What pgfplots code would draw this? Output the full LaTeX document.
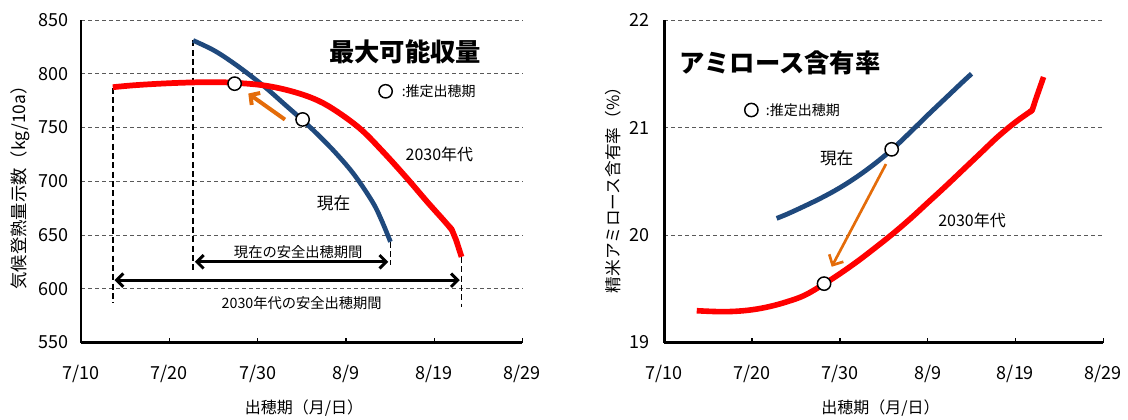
\documentclass[border=0pt]{standalone}
\usepackage{pgfplots}
\pgfplotsset{compat=1.18}
\usepackage{fontspec}
\setmainfont{Noto Sans CJK JP}
\usetikzlibrary{arrows.meta}
\definecolor{navy}{RGB}{31,73,125}
\definecolor{orng}{RGB}{228,108,10}
\tikzset{
  dbl/.style={arrows={Straight Barb[length=5pt,width=10pt]-Straight Barb[length=5pt,width=10pt]}},
  vdash/.style={black, line width=1.1pt, dash pattern=on 4.5pt off 2.5pt},
}
\pgfplotsset{common/.style={
  scale only axis, height=241.9pt, clip=false,
  axis x line=bottom, axis y line=left,
  axis line style={-, line width=2pt},
  xmin=0, xmax=50, xtick={0,10,...,50},
  xticklabels={7/10,7/20,7/30,8/9,8/19,8/29},
  tick align=inside, major tick length=3.5pt,
  xtick style={line width=1pt, black},
  ytick style={draw=none},
  ymajorgrids,
  major grid style={black!65, line width=0.75pt, dash pattern=on 3pt off 2.25pt},
  tick label style={font=\fontsize{13.5}{16}\selectfont},
  xticklabel style={anchor=center, yshift=-23.3pt},
  /pgf/number format/assume math mode=true,
  circ/.style={only marks, mark=*, mark size=5pt, mark options={fill=white, draw=black, line width=1.1pt}},
}}
\begin{document}
\begin{tikzpicture}
\path[use as bounding box] (0,0) rectangle (846pt,-314.25pt);
% ---------------- left panel ----------------
\begin{axis}[common, at={(60.75pt,-256.9pt)}, anchor=south west, width=331.1pt,
  ymin=550, ymax=850, ytick={550,600,...,850},
  yticklabel style={anchor=east, inner sep=0pt, xshift=-9.5pt}]
\addplot[vdash] coordinates {(3.6,787) (3.6,586.5)};
\addplot[vdash] coordinates {(12.7,831) (12.7,615.8)};
\addplot[vdash] coordinates {(35.05,643.7) (35.05,622)};
\addplot[vdash] coordinates {(43.1,629.7) (43.1,582.7)};
\addplot[navy, line width=3.5pt, smooth, tension=0.6] coordinates {
(12.7,831)(15,822)(17,811.5)(19,799.5)(21,786.5)(23,772)(25,757.5)(27,742)
(29,725)(31,705.5)(33,681)(34,664.5)(35.05,643.7)};
\addplot[red, line width=4.3pt, smooth, tension=0.6, line join=round] coordinates {
(3.6,787.5)(6,789.3)(9,790.8)(12,791.8)(15,792.2)(17.4,791.6)(20.6,789.3)(23.5,784.5)
(26.3,777)(28.6,767)(31.6,749)(34.2,727.5)(36.9,703)(39.2,681)(41.0,664.5)(42.0,655)};
\addplot[red, line width=4.3pt, line join=round] coordinates {
(41.7,658)(42.0,655)(42.5,645)(43.1,629.7)};
\addplot[black, line width=2.2pt, dbl] coordinates {(12.9,625.1) (34.8,625.1)};
\addplot[black, line width=2.2pt, dbl] coordinates {(3.8,608) (42.9,608)};
\addplot[orng, line width=3pt, arrows={-Straight Barb[length=5pt,width=11pt]}] coordinates {(23.1,757.4) (18.95,781.6)};
\addplot[circ] coordinates {(17.4,790.8) (25.1,757.5)};
\addplot[circ] coordinates {(34.5,783.7)};
\node[font=\bfseries\fontsize{19}{22}\selectfont] at (axis cs:36.7,820.1) {最大可能収量};
\node[anchor=west, font=\fontsize{10.5}{12}\selectfont, inner sep=0pt] at (axis cs:36.3,783.7) {:推定出穂期};
\node[font=\fontsize{12}{14}\selectfont] at (axis cs:40.6,725.2) {2030年代};
\node[font=\fontsize{12.5}{14}\selectfont] at (axis cs:28.6,679.9) {現在};
\node[font=\fontsize{10.7}{12}\selectfont] at (axis cs:24.6,634.4) {現在の安全出穂期間};
\node[font=\fontsize{10.7}{12}\selectfont] at (axis cs:25.0,587) {2030年代の安全出穂期間};
\end{axis}
% ---------------- right panel ----------------
\begin{axis}[common, at={(498.2pt,-256.9pt)}, anchor=south west, width=329.25pt,
  ymin=19, ymax=22, ytick={19,20,21,22},
  yticklabel style={anchor=east, inner sep=0pt, xshift=-10.7pt}]
\addplot[navy, line width=3.6pt, smooth, tension=0.6] coordinates {
(12.8,20.155)(14,20.195)(16,20.27)(18,20.35)(20,20.44)(22,20.545)(24,20.665)(26,20.8)
(28,20.955)(30,21.115)(32,21.27)(34,21.425)(35,21.5)};
\addplot[red, line width=4.2pt, smooth, tension=0.6] coordinates {
(3.7,19.296)(6,19.288)(8,19.29)(10,19.305)(12,19.335)(14,19.38)(16,19.44)(18.2,19.545)
(20,19.64)(22,19.755)(24,19.88)(26,20.01)(28,20.15)(30,20.3)(32,20.45)(34,20.605)
(36,20.76)(38,20.915)(40,21.05)(41.9,21.16)};
\addplot[red, line width=4.2pt, line join=round] coordinates {
(41.6,21.143)(41.9,21.16)(42.3,21.26)(43.2,21.47)};
\addplot[orng, line width=2pt, arrows={-Straight Barb[length=6pt,width=12pt]}] coordinates {(25.25,20.66) (19.07,19.705)};
\addplot[circ] coordinates {(25.9,20.797) (18.2,19.548)};
\addplot[circ] coordinates {(9.92,21.163)};
\node[font=\bfseries\fontsize{19}{22}\selectfont] at (axis cs:13.18,21.597) {アミロース含有率};
\node[anchor=west, font=\fontsize{10.5}{12}\selectfont, inner sep=0pt] at (axis cs:11.55,21.163) {:推定出穂期};
\node[font=\fontsize{12.5}{14}\selectfont] at (axis cs:19.64,20.713) {現在};
\node[font=\fontsize{12}{14}\selectfont] at (axis cs:35.05,20.14) {2030年代};
\end{axis}
% ---------------- axis titles ----------------
\node[font=\fontsize{12}{14}\selectfont] at (228pt,-306pt) {出穂期（月/日）};
\node[font=\fontsize{12}{14}\selectfont] at (660.4pt,-306pt) {出穂期（月/日）};
\node[rotate=90, font=\fontsize{13}{15}\selectfont] at (15.4pt,-137.6pt) {気候登熟量示数（kg/10a）};
\node[rotate=90, font=\fontsize{12.5}{15}\selectfont] at (459.7pt,-139.5pt) {精米アミロース含有率（\%）};
\end{tikzpicture}
\end{document}
